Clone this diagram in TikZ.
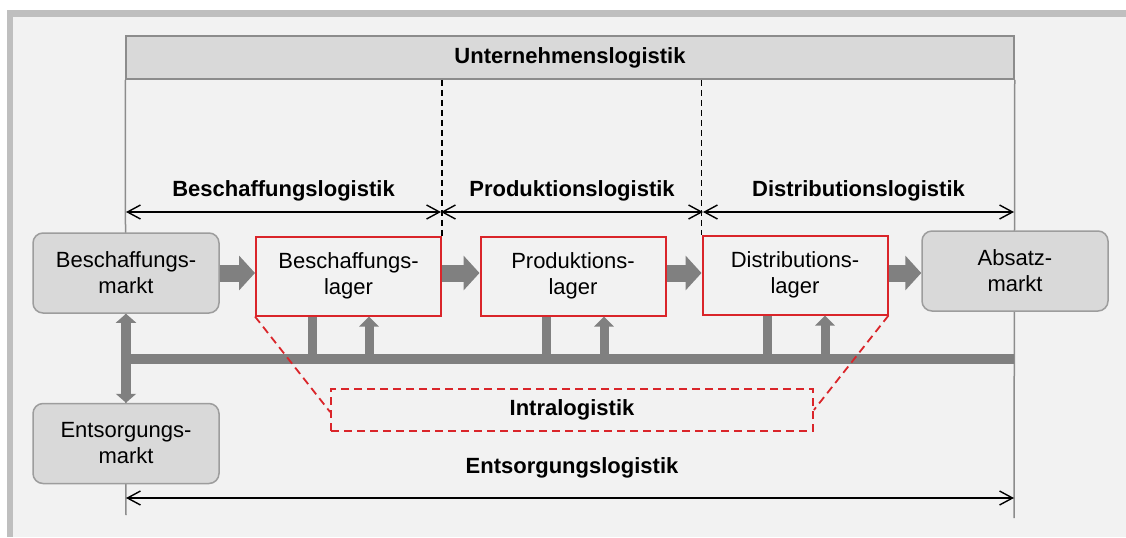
\documentclass[tikz,border=0pt]{standalone}
\usepackage{fontspec}
\setmainfont{Liberation Sans}
\usetikzlibrary{arrows.meta}
\definecolor{bandgray}{RGB}{191,191,191}
\definecolor{bggray}{RGB}{242,242,242}
\definecolor{boxgray}{RGB}{217,217,217}
\definecolor{linegray}{RGB}{140,140,140}
\definecolor{flowgray}{RGB}{128,128,128}
\definecolor{lred}{RGB}{218,37,42}

\begin{document}
\begin{tikzpicture}[x=0.5pt,y=-0.5pt,
  every node/.style={font=\fontsize{11}{13}\selectfont, inner sep=0pt},
  market/.style={draw=linegray!85, fill=boxgray, rounded corners=5pt, line width=0.75pt,
                 minimum width=93pt, minimum height=40pt, align=center},
  store/.style={draw=lred, line width=1pt, minimum width=92.5pt, minimum height=39.5pt, align=center},
  title/.style={font=\fontsize{11}{13}\selectfont\bfseries},
  header/.style={draw=linegray, fill=boxgray, line width=0.75pt, minimum width=444pt, minimum height=21.5pt},
  intra/.style={draw=lred, dash pattern=on 4pt off 2.5pt, line width=0.9pt,
                minimum width=241pt, minimum height=21pt},
  zoomline/.style={draw=lred, dash pattern=on 4pt off 2.5pt, line width=0.9pt},
  frameline/.style={draw=linegray, line width=0.75pt},
  phase/.style={draw=black, dash pattern=on 3pt off 2pt, line width=0.75pt},
  dim/.style={draw=black, line width=0.7pt,
              {Straight Barb[length=6.5pt,width=7pt]}-{Straight Barb[length=6.5pt,width=7pt]}},
  flow/.style={draw=flowgray, line width=8.5pt, -{Triangle[length=8pt,width=17pt]}},
  bus/.style={draw=flowgray, line width=5pt},
  stub/.style={draw=flowgray, line width=4.5pt},
  uparrow/.style={draw=flowgray, line width=4.5pt, -{Triangle[length=5pt,width=9.5pt]}},
  twoway/.style={draw=flowgray, line width=5pt,
                 {Triangle[length=4.5pt,width=10pt]}-{Triangle[length=4.5pt,width=10pt]}},
]
% canvas and frame band
\useasboundingbox (0,0) rectangle (1126,537);
\fill[white] (0,0) rectangle (1126,537);
\fill[bandgray] (7,10) rectangle (1126,537);
\fill[bggray] (13,17) rectangle (1126,537);

% enterprise header and its side borders
\node[header, title] (hdr) at (570,57.5) {Unternehmenslogistik};
\coordinate (leftend) at (126,515);
\coordinate (rightend) at (1014,518);
\draw[frameline] (hdr.south west) -- (leftend);
\draw[frameline] (hdr.south east) -- (rightend);

% markets
\node[market] (bm) at (126,273) {Beschaffungs-\\markt};
\node[market] (am) at (1015,271) {Absatz-\\markt};
\node[market] (em) at (126,443.5) {Entsorgungs-\\markt};

% warehouses
\node[store] (bl) at (348.5,276) {Beschaffungs-\\lager};
\node[store] (pl) at (573,276) {Produktions-\\lager};
\node[store] (dl) at (795,275) {Distributions-\\lager};

% phase boundaries
\draw[phase] (bl.north east |- hdr.south) -- (bl.north east);
\draw[phase] (dl.north west |- hdr.south) -- (dl.north west);

% phase extents
\coordinate (a0) at (126,212);
\coordinate (a1) at (441,212);
\coordinate (a2) at (703,212);
\coordinate (a3) at (1014,212);
\draw[dim] (a0) -- (a1);
\draw[dim] (a1) -- (a2);
\draw[dim] (a2) -- (a3);
\node[title] (lb) at (283.5,191) {Beschaffungslogistik};
\node[title] (lp) at (572,191) {Produktionslogistik};
\node[title] (ld) at (858.5,191) {Distributionslogistik};

% material flow
\draw[flow] (bm.east) -- (bm.east -| bl.west);
\draw[flow] (bl.east |- bm.east) -- (pl.west |- bm.east);
\draw[flow] (pl.east |- bm.east) -- (dl.west |- bm.east);
\draw[flow] (dl.east |- bm.east) -- (am.west |- bm.east);

% disposal bus
\coordinate (busL) at (126,359);
\coordinate (busR) at (1014,359);
\draw[bus] (busL) -- (busR);
\draw[twoway] (bm.south) -- (em.north);
\coordinate (s1) at (312,359);
\coordinate (u1) at (369,359);
\coordinate (s2) at (546,359);
\coordinate (u2) at (604,359);
\coordinate (s3) at (767,359);
\coordinate (u3) at (825,359);
\draw[stub] (s1) -- (s1 |- bl.south);
\draw[uparrow] (u1) -- (u1 |- bl.south);
\draw[stub] (s2) -- (s2 |- pl.south);
\draw[uparrow] (u2) -- (u2 |- pl.south);
\draw[stub] (s3) -- (s3 |- dl.south);
\draw[uparrow] (u3) -- (u3 |- dl.south);

% intralogistics
\node[intra, title] (il) at (572,410) {Intralogistik};
\draw[zoomline] (bl.south west) -- ([yshift=-1pt]il.west);
\draw[zoomline] (dl.south east) -- (il.east);

% disposal logistics
\node[title] (le) at (572,468) {Entsorgungslogistik};
\coordinate (e0) at (126,498);
\coordinate (e1) at (1014,498);
\draw[dim] (e0) -- (e1);
\end{tikzpicture}
\end{document}
